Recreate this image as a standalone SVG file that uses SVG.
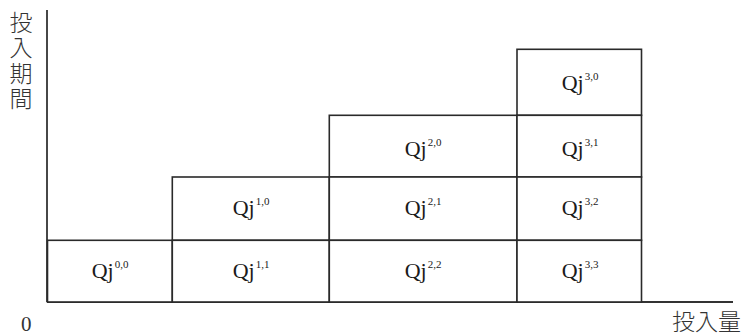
<svg xmlns="http://www.w3.org/2000/svg" width="747" height="334" viewBox="0 0 747 334">
  <style>
    .cell { fill: #ffffff; stroke: #2a2a2a; stroke-width: 1.6; }
    .axis { stroke: #333333; stroke-width: 1.8; fill: none; }
    .q { font-family: "Liberation Serif", "Times New Roman", serif; font-size: 22px; fill: #1a1a1a; }
    .sup { font-size: 11px; }
    .jp { font-family: "Noto Sans CJK JP", "Noto Sans", sans-serif; font-size: 23px; fill: #333333; font-weight: 300; }
    .num { font-family: "Liberation Serif", "Times New Roman", serif; font-size: 21px; fill: #333333; }
  </style>

  <!-- axes -->
  <g id="axes">
    <line class="axis" x1="47" y1="10" x2="47" y2="302"/>
    <line class="axis" x1="47" y1="302" x2="733" y2="302"/>
  </g>

  <!-- axis labels -->
  <g id="axis-labels">
    <text class="jp" x="21" y="31" text-anchor="middle">投</text>
    <text class="jp" x="21" y="56" text-anchor="middle">入</text>
    <text class="jp" x="21" y="81.5" text-anchor="middle">期</text>
    <text class="jp" x="21" y="107" text-anchor="middle">間</text>
    <text class="num" x="21" y="331">0</text>
    <text class="jp" x="672" y="330">投入量</text>
  </g>

  <!-- column 0 -->
  <g id="q00">
    <rect class="cell" x="47.5" y="240.3" width="124.8" height="61.7"/>
    <text class="q" x="110" y="278" text-anchor="middle">Qj<tspan class="sup" dx="1" dy="-10">0,0</tspan></text>
  </g>

  <!-- column 1 -->
  <g id="q10">
    <rect class="cell" x="172.3" y="177" width="157" height="63.3"/>
    <text class="q" x="251" y="214.5" text-anchor="middle">Qj<tspan class="sup" dx="1" dy="-10">1,0</tspan></text>
  </g>
  <g id="q11">
    <rect class="cell" x="172.3" y="240.3" width="157" height="61.7"/>
    <text class="q" x="251" y="278" text-anchor="middle">Qj<tspan class="sup" dx="1" dy="-10">1,1</tspan></text>
  </g>

  <!-- column 2 -->
  <g id="q20">
    <rect class="cell" x="329.3" y="115.3" width="187.7" height="61.7"/>
    <text class="q" x="423" y="156" text-anchor="middle">Qj<tspan class="sup" dx="1" dy="-10">2,0</tspan></text>
  </g>
  <g id="q21">
    <rect class="cell" x="329.3" y="177" width="187.7" height="63.3"/>
    <text class="q" x="423" y="214.5" text-anchor="middle">Qj<tspan class="sup" dx="1" dy="-10">2,1</tspan></text>
  </g>
  <g id="q22">
    <rect class="cell" x="329.3" y="240.3" width="187.7" height="61.7"/>
    <text class="q" x="423" y="278" text-anchor="middle">Qj<tspan class="sup" dx="1" dy="-10">2,2</tspan></text>
  </g>

  <!-- column 3 -->
  <g id="q30">
    <rect class="cell" x="517" y="49.3" width="124.5" height="66"/>
    <text class="q" x="580" y="90" text-anchor="middle">Qj<tspan class="sup" dx="1" dy="-10">3,0</tspan></text>
  </g>
  <g id="q31">
    <rect class="cell" x="517" y="115.3" width="124.5" height="61.7"/>
    <text class="q" x="580" y="156" text-anchor="middle">Qj<tspan class="sup" dx="1" dy="-10">3,1</tspan></text>
  </g>
  <g id="q32">
    <rect class="cell" x="517" y="177" width="124.5" height="63.3"/>
    <text class="q" x="580" y="214.5" text-anchor="middle">Qj<tspan class="sup" dx="1" dy="-10">3,2</tspan></text>
  </g>
  <g id="q33">
    <rect class="cell" x="517" y="240.3" width="124.5" height="61.7"/>
    <text class="q" x="580" y="278" text-anchor="middle">Qj<tspan class="sup" dx="1" dy="-10">3,3</tspan></text>
  </g>
</svg>
